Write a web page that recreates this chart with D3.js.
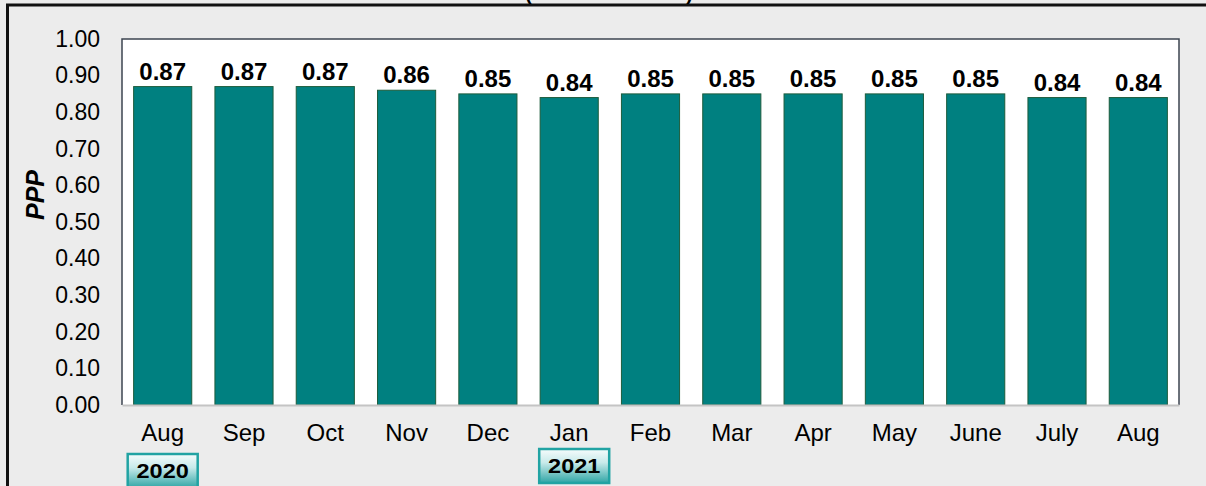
<!DOCTYPE html>
<html>
<head>
<meta charset="utf-8">
<script src="https://cdn.jsdelivr.net/npm/d3@7"></script>
<style>
  body { margin: 0; background: #ececec; }
  svg { display: block; font-family: "Liberation Sans", Arial, sans-serif; }
</style>
</head>
<body>
<svg id="chart" width="1206" height="486"></svg>
<script>
// chart values
var months = ['Aug', 'Sep', 'Oct', 'Nov', 'Dec', 'Jan', 'Feb', 'Mar', 'Apr', 'May', 'June', 'July', 'Aug'];
var ppp = [0.87, 0.87, 0.87, 0.86, 0.85, 0.84, 0.85, 0.85, 0.85, 0.85, 0.85, 0.84, 0.84];
var yTicks = [0, 0.1, 0.2, 0.3, 0.4, 0.5, 0.6, 0.7, 0.8, 0.9, 1.0];
var years = [{ label: '2020', at: 0 }, { label: '2021', at: 5 }];

var svg = d3.select('#chart');

var f = { left: 122, right: 1179, top: 39, bottom: 405 };

var x = d3.scaleBand()
	.domain(d3.range(months.length))
	.range([f.left, f.right])
	.paddingInner(0.285)
	.paddingOuter(0.143);

var y = d3.scaleLinear()
	.domain([0, 1])
	.range([f.bottom, f.top]);

// outer frame
svg.append('rect')
	.attr('x', 0).attr('y', 0)
	.attr('width', 1206).attr('height', 486)
	.attr('fill', '#ececec');

svg.append('path')
	.attr('d', 'M7.5,486V5H1206')
	.attr('fill', 'none')
	.attr('stroke', '#111')
	.attr('stroke-width', 3);

// title, cut off at the top edge like the original
svg.append('text')
	.attr('x', 609).attr('y', 0)
	.attr('text-anchor', 'middle')
	.attr('font-weight', 'bold')
	.attr('font-size', 20)
	.attr('textLength', 168)
	.text('(2020 - 2021)');

// plot area
svg.append('rect')
	.attr('x', f.left).attr('y', f.top)
	.attr('width', f.right - f.left).attr('height', f.bottom - f.top)
	.attr('fill', '#fff');

svg.append('path')
	.attr('d', 'M' + f.left + ',' + f.bottom + 'V' + f.top + 'H' + f.right + 'V' + f.bottom)
	.attr('fill', 'none')
	.attr('stroke', '#3c4450')
	.attr('stroke-width', 1.5);

// bars
svg.selectAll('rect.bar')
	.data(ppp)
	.enter().append('rect')
	.attr('class', 'bar')
	.attr('x', function(d, i) { return x(i); })
	.attr('y', function(d) { return y(d); })
	.attr('width', x.bandwidth())
	.attr('height', function(d) { return y(0) - y(d); })
	.attr('fill', '#008080')
	.attr('stroke', '#1d5c3c')
	.attr('stroke-width', 1);

svg.selectAll('text.val')
	.data(ppp)
	.enter().append('text')
	.attr('class', 'val')
	.attr('x', function(d, i) { return x(i) + x.bandwidth() / 2; })
	.attr('y', function(d) { return y(d) - 7; })
	.attr('text-anchor', 'middle')
	.attr('font-weight', 'bold')
	.attr('font-size', 24)
	.attr('fill', '#000')
	.text(function(d) { return d.toFixed(2); });

// y axis
var yAxis = svg.append('g')
	.attr('transform', 'translate(' + f.left + ',0)')
	.call(d3.axisLeft(y).tickValues(yTicks).tickSize(0).tickPadding(22).tickFormat(d3.format('.2f')));
yAxis.select('.domain').remove();
yAxis.selectAll('text')
	.attr('font-size', 23)
	.attr('font-family', '"Liberation Sans", Arial, sans-serif')
	.attr('fill', '#000');

// x axis
var xAxis = svg.append('g')
	.attr('transform', 'translate(0,' + f.bottom + ')')
	.call(d3.axisBottom(x).tickSize(0).tickFormat(function(i) { return months[i]; }));
xAxis.select('.domain')
	.attr('stroke', '#c4c4c4')
	.attr('stroke-width', 2);
xAxis.selectAll('text')
	.attr('y', 36)
	.attr('dy', null)
	.attr('font-size', 24)
	.attr('font-family', '"Liberation Sans", Arial, sans-serif')
	.attr('fill', '#000');

svg.append('text')
	.attr('transform', 'translate(44,195) rotate(-90)')
	.attr('text-anchor', 'middle')
	.attr('font-weight', 'bold')
	.attr('font-style', 'italic')
	.attr('font-size', 25)
	.text('PPP');

// year boxes
var grad = svg.append('defs').append('linearGradient')
	.attr('id', 'yearFill')
	.attr('x1', 0).attr('y1', 0).attr('x2', 0).attr('y2', 1);
grad.append('stop').attr('offset', '0%').attr('stop-color', '#f6fcfc');
grad.append('stop').attr('offset', '40%').attr('stop-color', '#c8eaea');
grad.append('stop').attr('offset', '100%').attr('stop-color', '#2fa5a5');

var yr = svg.selectAll('g.year')
	.data(years)
	.enter().append('g')
	.attr('class', 'year')
	.attr('transform', function(d, i) {
		var cx = x(d.at) + x.bandwidth() / 2 + (i === 0 ? 0 : 5);
		return 'translate(' + cx + ',' + (i === 0 ? 454 : 449) + ')';
	});

yr.append('rect')
	.attr('x', -35).attr('y', 0)
	.attr('width', 70).attr('height', 34)
	.attr('fill', 'url(#yearFill)')
	.attr('stroke', '#21a3a3')
	.attr('stroke-width', 2.5);

yr.append('text')
	.attr('y', 24)
	.attr('text-anchor', 'middle')
	.attr('transform', 'scale(1.12,1)')
	.attr('font-weight', 'bold')
	.attr('font-size', 21)
	.text(function(d) { return d.label; });
</script>
</body>
</html>
